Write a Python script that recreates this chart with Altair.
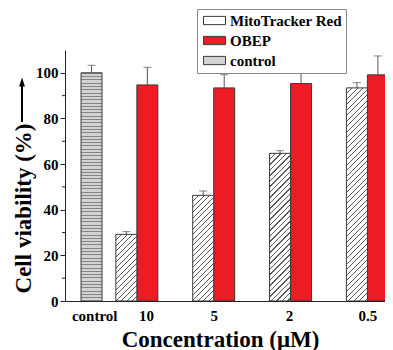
import json
import altair as alt
import pandas as pd

# ---------------- data ----------------
categories = ["control", "10", "5", "2", "0.5"]
series_names = ["MitoTracker Red", "OBEP", "control"]
conc = ["10", "5", "2", "0.5"]
mito_values = [29.2, 46.3, 64.7, 93.4]
mito_errors = [1.2, 1.9, 1.2, 2.3]
obep_values = [94.7, 93.4, 95.3, 99.1]
obep_errors = [7.7, 5.8, 5.2, 8.3]
control_value = [100.0]
control_error = [3.3]
y_ticks = [0, 20, 40, 60, 80, 100]
y_minor_ticks = [10, 30, 50, 70, 90]
arrow_span = [78.4, 94.5]   # y-title arrow, in axis units
arrow_head = [96.0]

# ---------------- layout / style ----------------
group_pos = {"control": 0.41, "10": 1.0, "5": 2.0, "2": 3.0, "0.5": 4.0}
label_pos = {"control": 0.445, "10": 1.12, "5": 2.0, "2": 2.98, "0.5": 4.0}
PLOT_W, PLOT_H = 320, 251
X_DOMAIN = [0.13, 4.0 + (PLOT_W - 307) / 79.33]
Y_DOMAIN = [0, 110]
BAR_W = 21
OFFSETS = {"MitoTracker Red": -BAR_W / 2, "OBEP": BAR_W / 2, "control": 0}
RED = "#ED1C24"
EDGE = "#3a3a3a"
FONT = "Liberation Serif"

rows = []
rows.append(dict(cat="control", series="control", value=control_value[0], err=control_error[0]))
for c, v, e in zip(conc, mito_values, mito_errors):
    rows.append(dict(cat=c, series="MitoTracker Red", value=v, err=e))
for c, v, e in zip(conc, obep_values, obep_errors):
    rows.append(dict(cat=c, series="OBEP", value=v, err=e))
df = pd.DataFrame(rows)
df["pos"] = df["cat"].map(group_pos)
df["top"] = df["value"] + df["err"]
df["id"] = range(len(df))


def hatch(w, h, period=5.5, lw=1.1, bg="#ffffff", fg="#5a5a5a"):
    L = w + h
    k = L / (w * w + h * h)
    stops = []
    i = 0
    while i * period < L:
        a = i * period / L
        b = min((i * period + lw) / L, 1.0)
        nxt = min((i + 1) * period / L, 1.0)
        stops += [(a, fg), (b, fg), (b, bg), (nxt, bg)]
        i += 1
    return {"gradient": "linear", "x1": 0, "y1": 0, "x2": k * w, "y2": k * h,
            "stops": [{"offset": round(o, 5), "color": c} for o, c in stops]}


def stripes(h, period=3.3, lw=1.0, bg="#d2d2d2", fg="#858585"):
    stops = []
    i = 0
    while i * period < h:
        a = i * period / h
        b = min((i * period + lw) / h, 1.0)
        nxt = min((i + 1) * period / h, 1.0)
        stops += [(a, fg), (b, fg), (b, bg), (nxt, bg)]
        i += 1
    return {"gradient": "linear", "x1": 0, "y1": 0, "x2": 0, "y2": 1,
            "stops": [{"offset": round(o, 5), "color": c} for o, c in stops]}


px_per_unit = PLOT_H / (Y_DOMAIN[1] - Y_DOMAIN[0])

xscale = alt.Scale(domain=X_DOMAIN, nice=False, zero=False)
yscale = alt.Scale(domain=Y_DOMAIN, nice=False)

lab_vals = [label_pos[c] for c in categories]
label_expr = "%s[indexof(%s, datum.value)]" % (json.dumps(categories), json.dumps(lab_vals))

xaxis = alt.Axis(values=lab_vals, labelExpr=label_expr, tickSize=0, grid=False,
                 domainColor="#222", labelFont=FONT, labelFontWeight="bold",
                 labelFontSize=15, labelColor="black", labelPadding=7,
                 title="Concentration  (\u03bcM)", titleFont=FONT, titleFontSize=23,
                 titleFontWeight="bold", titleColor="black", titleX=155,
                 titleY=45, titleBaseline="alphabetic", labelFlush=False)
yaxis = alt.Axis(values=y_ticks, tickSize=5, tickColor="#222", domainColor="#222",
                 grid=False, labelFont=FONT, labelFontWeight="bold", labelFontSize=15,
                 labelColor="black", labelPadding=2,
                 title="Cell viability (%)", titleFont=FONT, titleFontSize=23,
                 titleFontWeight="bold", titleColor="black", titleAngle=270,
                 titleX=-42, titleY=158, titleBaseline="middle", titleAlign="center")

X = alt.X("pos:Q", scale=xscale, axis=xaxis)
Y = alt.Y("value:Q", scale=yscale, axis=yaxis)

base = alt.Chart(df)

# legend symbol fills
leg_hatch = json.dumps(hatch(22, 9, period=5.0, lw=1.1))
leg_stripe = json.dumps(stripes(9, period=3.0, lw=1.0))
leg_fill = "datum.value === 'MitoTracker Red' ? %s : (datum.value === 'control' ? %s : '%s')" % (
    leg_hatch, leg_stripe, RED)

legend = alt.Legend(orient="none", legendX=132, legendY=-41, title=None,
                    symbolType="M-2,-0.75H2V0.75H-2Z", symbolSize=121, symbolOffset=6,
                    strokeColor="#888", fillColor="white", padding=4,
                    labelFont=FONT, labelFontSize=15, labelFontWeight="bold",
                    labelColor="black", rowPadding=4, labelOffset=8,
                    symbolStrokeColor=EDGE, symbolStrokeWidth=1, symbolOpacity=1,
                    symbolFillColor=alt.ExprRef(expr=leg_fill))

layers = []

# OBEP bars (carry the legend)
layers.append(
    base.transform_filter(alt.datum.series == "OBEP")
    .mark_bar(width=BAR_W, xOffset=OFFSETS["OBEP"], stroke=EDGE, strokeWidth=1,
              opacity=1, clip=True)
    .encode(x=X, y=Y,
            fill=alt.Fill("series:N", scale=alt.Scale(domain=series_names,
                                                      range=["#ffffff", RED, "#d2d2d2"]),
                          legend=legend))
)

# hatched / striped bars
for r in df.itertuples():
    if r.series == "OBEP":
        continue
    h = r.value * px_per_unit
    g = stripes(h) if r.series == "control" else hatch(BAR_W, h)
    layers.append(
        base.transform_filter(alt.datum.id == int(r.id))
        .mark_bar(width=BAR_W, xOffset=OFFSETS[r.series], fill=g, stroke=EDGE,
                  strokeWidth=1, clip=True)
        .encode(x=X, y=Y)
    )

# error bars
for s in series_names:
    sub = base.transform_filter(alt.datum.series == s)
    layers.append(sub.mark_rule(color="#555", strokeWidth=1, xOffset=OFFSETS[s])
                  .encode(x=X, y=Y, y2="top:Q"))
    layers.append(sub.mark_tick(orient="horizontal", size=8, thickness=1, color="#555",
                                xOffset=OFFSETS[s])
                  .encode(x=X, y=alt.Y("top:Q", scale=yscale, axis=yaxis)))

# minor y ticks
layers.append(
    alt.Chart(pd.DataFrame({"v": y_minor_ticks}))
    .mark_rule(color="#222", strokeWidth=1)
    .encode(x=alt.value(0), x2=alt.value(-3), y=alt.Y("v:Q", scale=yscale, axis=yaxis))
)

# arrow of the y title
layers.append(
    alt.Chart(pd.DataFrame({"a": [arrow_span[0]], "b": [arrow_span[1]]}))
    .mark_rule(color="black", strokeWidth=2)
    .encode(x=alt.value(-43), y=alt.Y("a:Q", scale=yscale, axis=yaxis), y2="b:Q")
)
layers.append(
    alt.Chart(pd.DataFrame({"a": arrow_head}))
    .mark_point(shape="M0,-1L0.65,1L-0.65,1Z", filled=True, color="black", size=81, opacity=1)
    .encode(x=alt.value(-43), y=alt.Y("a:Q", scale=yscale, axis=yaxis))
)

chart = alt.layer(*layers).properties(
    width=PLOT_W, height=PLOT_H,
    autosize=alt.AutoSizeParams(type="none"),
    padding={"left": 57, "top": 42, "right": 0, "bottom": 49},
).configure_view(stroke=None)

chart.save("out.html", embed_options={"renderer": "svg", "actions": False})
